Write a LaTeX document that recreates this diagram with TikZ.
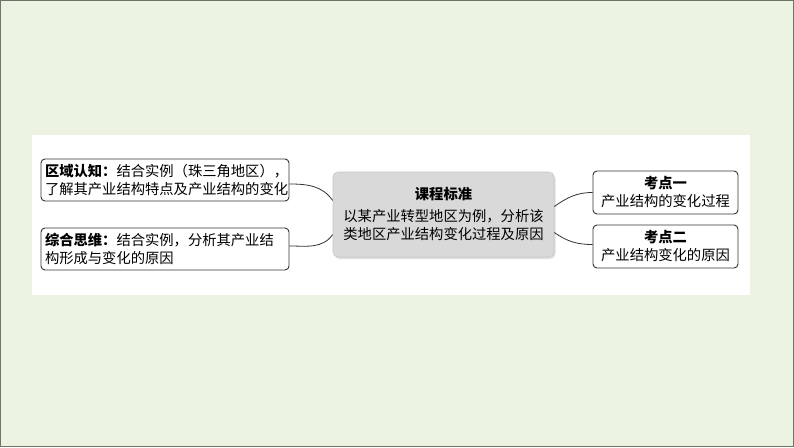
\documentclass[tikz,border=0pt]{standalone}
\usepackage{fontspec}
\setmainfont{Noto Sans CJK SC}
\usetikzlibrary{shadows}
\definecolor{bgcol}{HTML}{EDF3E3}
\definecolor{framecol}{HTML}{6E7566}
\definecolor{boxline}{HTML}{333333}
\definecolor{centerfill}{HTML}{D9D9D9}
\begin{document}
\begin{tikzpicture}[x=1pt,y=-1pt,
  txt/.style={font=\fontsize{14.3}{18}\selectfont, text=black},
  leftbox/.style={txt, draw=boxline, line width=0.9pt, rounded corners=4pt, fill=white,
    text width=240pt, align=left, inner xsep=4pt, inner ysep=2pt, minimum height=42pt},
  rightbox/.style={txt, draw=boxline, line width=0.9pt, rounded corners=4pt, fill=white,
    text width=139pt, align=center, inner xsep=3pt, inner ysep=2pt, minimum height=43pt},
  centerbox/.style={txt, draw=centerfill!80!gray, line width=0.6pt, rounded corners=5pt, fill=centerfill,
    text width=215pt, align=center, inner xsep=3pt, minimum height=85pt,
    drop shadow={opacity=0.25, shadow xshift=1.5pt, shadow yshift=-2pt}},
  link/.style={draw=boxline, line width=0.8pt}
]
\useasboundingbox (0,0) rectangle (794,447);
\fill[bgcol] (0,0) rectangle (794,447);
\draw[framecol, line width=1.2pt] (0.6,0.6) rectangle (793.4,446.4);
\fill[white] (32,135) rectangle (750,295);

\node[leftbox] (b1) at (165,180) {\textbf{区域认知：}结合实例（珠三角地区），\\了解其产业结构特点及产业结构的变化};
\node[leftbox] (b2) at (165,249) {\textbf{综合思维：}结合实例，分析其产业结\\构形成与变化的原因};
\node[centerbox] (c) at (443.5,214.5) {\textbf{课程标准}\\[4pt]以某产业转型地区为例，分析该\\类地区产业结构变化过程及原因};
\node[rightbox] (r1) at (665.5,192.5) {\textbf{考点一}\\产业结构的变化过程};
\node[rightbox] (r2) at (665.5,246.5) {\textbf{考点二}\\产业结构变化的原因};

\draw[link] ([yshift=-4pt]b1.east) to[out=0,in=125] ([yshift=14pt]c.west);
\draw[link] ([yshift=3pt]b2.east) to[out=0,in=-125] ([yshift=-20pt]c.west);
\draw[link] ([yshift=8pt]c.east) to[out=35,in=180] (r1.west);
\draw[link] ([yshift=-18pt]c.east) to[out=-35,in=180] ([yshift=2pt]r2.west);
\end{tikzpicture}
\end{document}
